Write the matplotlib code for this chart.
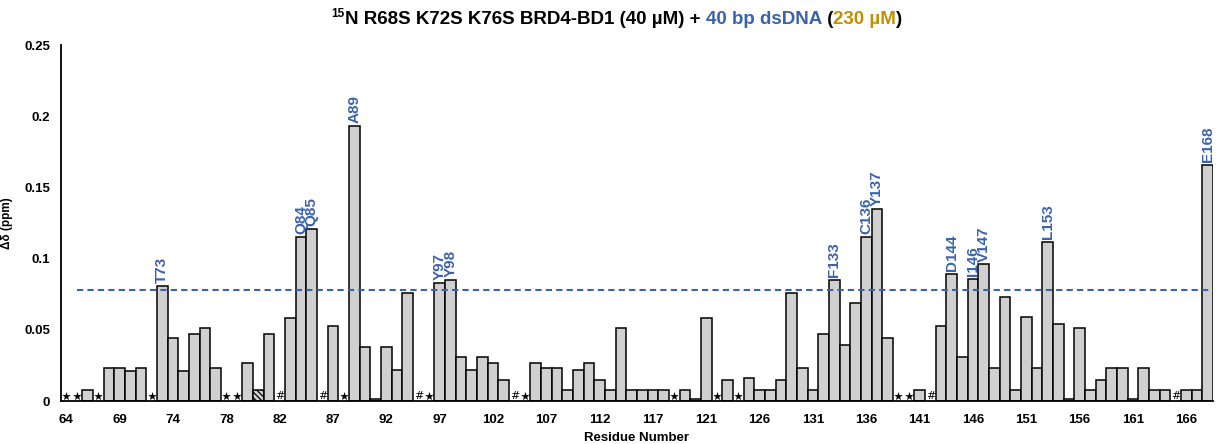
import matplotlib
matplotlib.use("Agg")
import matplotlib.pyplot as plt
import numpy as np

plt.rcParams["font.family"] = ["Liberation Sans", "DejaVu Sans"]
plt.rcParams["font.weight"] = "bold"
plt.rcParams["hatch.linewidth"] = 0.9

# residue categories (tryptophan side chains get their own slot)
residues = ([str(r) for r in range(64, 76)] + ["75sc"] +
            [str(r) for r in range(76, 82)] + ["81sc"] +
            [str(r) for r in range(82, 121)] + ["120sc"] +
            [str(r) for r in range(121, 169)])

# chemical shift perturbation (ppm), None = not assigned
shifts = [
    None, None, 0.008, None, 0.023, 0.023, 0.021, 0.023, None, 0.081,      # 64-73
    0.044, 0.021, 0.047, 0.051, 0.023, None, None, 0.027, 0.008, 0.047,    # 74-81sc
    None, 0.058, 0.115, 0.121, None, 0.053, None, 0.193, 0.038, 0.0015,    # 82-91
    0.038, 0.022, 0.076, None, None, 0.083, 0.085, 0.031, 0.022, 0.031,    # 92-101
    0.027, 0.015, None, None, 0.027, 0.023, 0.023, 0.008, 0.022, 0.027,    # 102-111
    0.015, 0.008, 0.051, 0.008, 0.008, 0.008, 0.008, None, 0.008, 0.0015,  # 112-120sc
    0.058, None, 0.015, None, 0.016, 0.008, 0.008, 0.015, 0.076, 0.023,    # 121-130
    0.008, 0.047, 0.085, 0.039, 0.069, 0.115, 0.135, 0.044, None, None,    # 131-140
    0.008, None, 0.053, 0.089, 0.031, 0.086, 0.096, 0.023, 0.073, 0.008,   # 141-150
    0.059, 0.023, 0.112, 0.054, 0.0015, 0.051, 0.008, 0.015, 0.023, 0.023, # 151-160
    0.0015, 0.023, 0.008, 0.008, None, 0.008, 0.008, 0.166,                # 161-168
]

star_residues = ["64", "65", "67", "72", "78", "79", "88", "96", "105",
                 "119", "122", "124", "139", "140"]
proline_residues = ["82", "86", "95", "104", "142", "165"]
hatched_residues = ["81"]
labeled = ["T73", "Q84", "Q85", "A89", "Y97", "Y98", "F133", "C136", "Y137",
           "D144", "I146", "V147", "L153", "E168"]
threshold = 0.078

blue = "#3b63ab"
gold = "#bf9000"

fig = plt.figure(figsize=(12.25, 4.44), dpi=100)
ax = fig.add_axes([61 / 1225, 43 / 444, 1152 / 1225, 356 / 444])

idx = {r: i for i, r in enumerate(residues)}
bx = [i for i, v in enumerate(shifts) if v is not None]
bh = [v for v in shifts if v is not None]
bars = ax.bar(bx, bh, width=1.0, color="#d0d0d0", edgecolor="black",
              linewidth=1.1, zorder=2)
for b, i in zip(bars, bx):
    if residues[i] in hatched_residues:
        b.set_hatch("\\\\\\\\\\\\")

ax.axhline(threshold, xmin=1.5 / 108, xmax=1.0, color=blue, lw=1.5,
           linestyle=(0, (3, 2)), zorder=3)

# unassigned / proline markers
ax.scatter([idx[r] for r in star_residues], [0.0032] * len(star_residues),
           marker="*", s=42, color="black", linewidths=0, zorder=4)
for r in proline_residues:
    ax.text(idx[r], 0.0003, "#", ha="center", va="bottom", fontsize=8,
            fontweight="normal", family="DejaVu Sans", zorder=4)

# residue labels above significant bars
for name in labeled:
    i = idx[name[1:]]
    ax.annotate(name, (i, shifts[i]), xytext=(0, 2), textcoords="offset points",
                rotation=90, ha="center", va="bottom", color=blue,
                fontsize=11, fontweight="bold")

ax.set_xlim(-0.5, len(residues) - 0.5)
ax.set_ylim(0, 0.25)
ax.set_xticks(range(0, len(residues), 5))
ax.set_xticklabels(residues[::5])
ax.set_yticks([0, 0.05, 0.1, 0.15, 0.2, 0.25])
ax.set_yticklabels(["0", "0.05", "0.1", "0.15", "0.2", "0.25"])
ax.tick_params(axis="both", length=0, labelsize=9.5)
ax.tick_params(axis="x", pad=9)
ax.tick_params(axis="y", pad=8)
for s in ["top", "right"]:
    ax.spines[s].set_visible(False)
for s in ["left", "bottom"]:
    ax.spines[s].set_linewidth(1.3)
ax.set_xlabel("Residue Number", fontsize=9.5, fontweight="bold", labelpad=5)
ax.set_ylabel("\u0394\u03b4 (ppm)", fontsize=8.5, fontweight="bold", labelpad=8)

# multicoloured title
pieces = [("15", "black", 8.5, 5),
          ("N R68S K72S K76S BRD4-BD1 (40 \u00b5M) + ", "black", 13.5, 0),
          ("40 bp dsDNA", blue, 13.5, 0),
          (" (", "black", 13.5, 0),
          ("230 \u00b5M", gold, 13.5, 0),
          (")", "black", 13.5, 0)]
renderer = fig.canvas.get_renderer()
texts = []
widths = []
for s, c, fs, dy in pieces:
    t = fig.text(0, 0, s, color=c, fontsize=fs, fontweight="bold",
                 va="baseline", ha="left")
    texts.append(t)
    widths.append(t.get_window_extent(renderer).width)
total = sum(widths)
xpix = 617 - total / 2
base = 444 - 24
for t, w, (s, c, fs, dy) in zip(texts, widths, pieces):
    t.set_position((xpix / 1225, (base + dy * 100 / 72) / 444))
    xpix += w

fig.savefig("out.png", dpi=100)
